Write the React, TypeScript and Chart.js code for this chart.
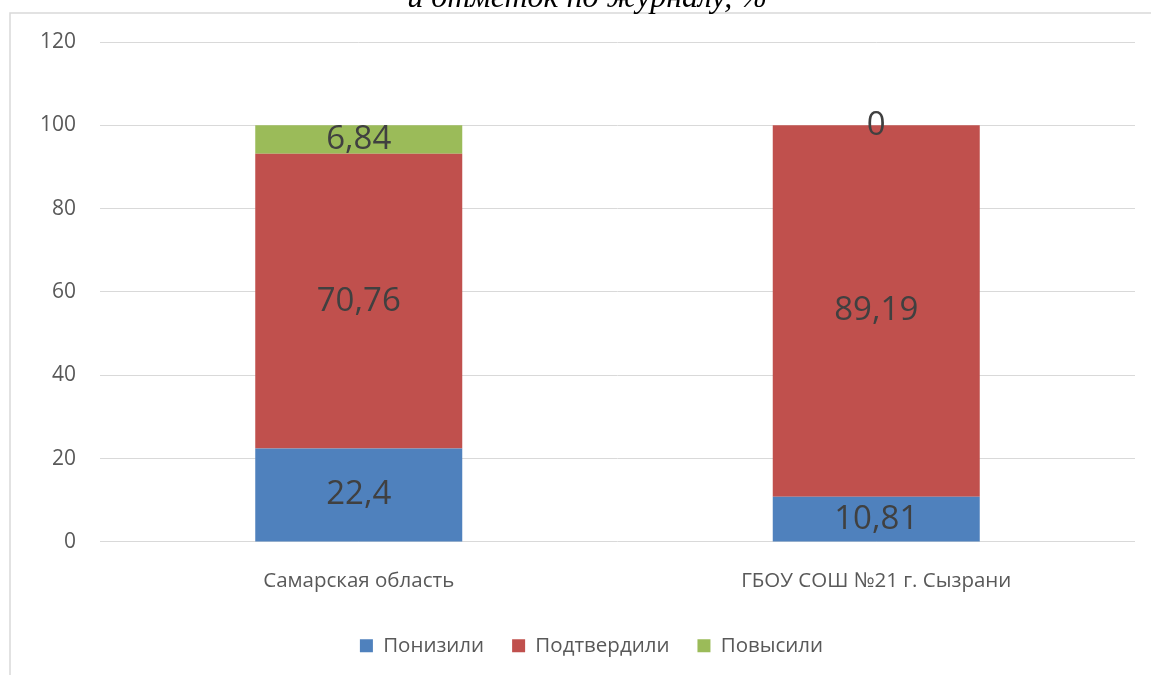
import React, { useEffect, useRef } from "react";
import { Chart, registerables } from "chart.js";

Chart.register(...registerables);

const categories = ["Самарская область", "ГБОУ СОШ №21 г. Сызрани"];
const seriesNames = ["Понизили", "Подтвердили", "Повысили"];
const lowered = [22.4, 10.81];
const confirmed = [70.76, 89.19];
const raised = [6.84, 0];
const seriesColors = ["#4F81BD", "#C0504D", "#9BBB59"];
const titleText = "и отметок по журналу, %";
const yMin = 0;
const yMax = 120;
const yStep = 20;

const FONT = "'Open Sans', 'Noto Sans', sans-serif";

const framePlugin = {
  id: "frame",
  afterLayout(chart: any) {
    if (chart.legend) {
      chart.legend.left += 24;
      chart.legend.right += 24;
    }
  },
  beforeDraw(chart: any) {
    const ctx = chart.ctx;
    ctx.save();
    ctx.strokeStyle = "#d9d9d9";
    ctx.lineWidth = 1.5;
    ctx.beginPath();
    ctx.moveTo(10, chart.height);
    ctx.lineTo(10, 13);
    ctx.lineTo(chart.width, 13);
    ctx.stroke();
    ctx.fillStyle = "#000";
    ctx.font = "italic 32px 'Liberation Serif', 'DejaVu Serif', serif";
    ctx.textAlign = "center";
    ctx.textBaseline = "alphabetic";
    ctx.fillText(titleText, 587, 7);
    ctx.restore();
  },
};

const labelPlugin = {
  id: "valueLabels",
  afterDatasetsDraw(chart: any) {
    const ctx = chart.ctx;
    ctx.save();
    ctx.font = `33px ${FONT}`;
    ctx.fillStyle = "#404040";
    ctx.textAlign = "center";
    ctx.textBaseline = "middle";
    chart.data.datasets.forEach((ds: any, di: number) => {
      const meta = chart.getDatasetMeta(di);
      meta.data.forEach((el: any, i: number) => {
        const p = el.getProps(["x", "y", "base"], true);
        const v = ds.data[i];
        ctx.fillText(String(v).replace(".", ","), p.x, (p.y + p.base) / 2);
      });
    });
    ctx.restore();
  },
};

export default function App() {
  const ref = useRef<HTMLCanvasElement>(null);
  useEffect(() => {
    if (!ref.current) return;
    const chart = new Chart(ref.current, {
      type: "bar",
      data: {
        labels: categories,
        datasets: [
          { label: seriesNames[0], data: lowered, backgroundColor: seriesColors[0] },
          { label: seriesNames[1], data: confirmed, backgroundColor: seriesColors[1] },
          { label: seriesNames[2], data: raised, backgroundColor: seriesColors[2] },
        ],
      },
      options: {
        animation: false,
        responsive: false,
        maintainAspectRatio: false,
        layout: { padding: { left: 0, right: 16, top: 42, bottom: 9 } },
        datasets: { bar: { categoryPercentage: 1, barPercentage: 0.4 } },
        scales: {
          x: {
            stacked: true,
            grid: { display: false },
            border: { display: false },
            ticks: { color: "#595959", font: { family: FONT, size: 20.5 }, padding: 19 },
            afterFit: (s: any) => { s.height -= 5; },
          },
          y: {
            stacked: true,
            min: yMin,
            max: yMax,
            ticks: { stepSize: yStep, color: "#595959", font: { family: FONT, size: 21 }, padding: 24 },
            grid: { color: "#d9d9d9", lineWidth: 1, drawTicks: false },
            border: { display: false },
            afterFit: (s: any) => { s.width = 100; },
          },
        },
        plugins: {
          legend: {
            position: "bottom",
            labels: {
              color: "#595959",
              font: { family: FONT, size: 20.5 },
              boxWidth: 13,
              boxHeight: 13,
              padding: 28,
            },
          },
          tooltip: { enabled: false },
        },
      },
      plugins: [framePlugin, labelPlugin],
    });
    return () => chart.destroy();
  }, []);
  return (
    <div style={{ position: "fixed", left: 0, top: 0, width: 1151, height: 675, background: "#fff" }}>
      <canvas ref={ref} width={1151} height={675} style={{ display: "block" }} />
    </div>
  );
}
